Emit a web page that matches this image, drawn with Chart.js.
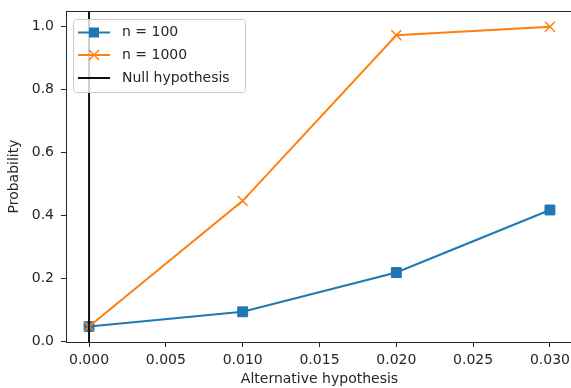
<!DOCTYPE html>
<html>
<head>
<meta charset="utf-8">
<script src="https://cdn.jsdelivr.net/npm/chart.js@4/dist/chart.umd.min.js"></script>
<style>
  html, body { margin: 0; padding: 0; background: #fff; overflow: hidden; }
  #wrap { width: 574px; height: 388px; }
</style>
</head>
<body>
<div id="wrap"><canvas id="powerChart" width="574" height="388"></canvas></div>
<script>
// Datos
const altHyp = [0, 0.01, 0.02, 0.03];
const power100 = [0.046, 0.093, 0.218, 0.417];
const power1000 = [0.046, 0.446, 0.973, 1.0];
const nullHyp = 0;

const seriesNames = ['n = 100', 'n = 1000', 'Null hypothesis'];
const xTicks = [0, 0.005, 0.01, 0.015, 0.02, 0.025, 0.03];
const yTicks = [0, 0.2, 0.4, 0.6, 0.8, 1.0];

const BLUE = '#1f77b4';
const ORANGE = '#ff7f0e';
const INK = '#262626';
const FONT = 'DejaVu Sans';

// Linea vertical + marco superior + leyenda estilo matplotlib
const extras = {
    id: 'extras',
    afterDatasetsDraw(chart) {
        const ctx = chart.ctx;
        const area = chart.chartArea;
        const xs = chart.scales.x;

        ctx.save();
        // hipotesis nula
        const px = xs.getPixelForValue(nullHyp);
        ctx.strokeStyle = '#111';
        ctx.lineWidth = 2;
        ctx.beginPath();
        ctx.moveTo(px, area.top);
        ctx.lineTo(px, area.bottom);
        ctx.stroke();

        // borde superior
        ctx.strokeStyle = INK;
        ctx.lineWidth = 1;
        ctx.beginPath();
        ctx.moveTo(area.left, area.top + 0.5);
        ctx.lineTo(area.right, area.top + 0.5);
        ctx.stroke();

        // leyenda
        const bx = 73.5, by = 19.5, bw = 172, bh = 73, r = 3;
        ctx.beginPath();
        ctx.moveTo(bx + r, by);
        ctx.arcTo(bx + bw, by, bx + bw, by + bh, r);
        ctx.arcTo(bx + bw, by + bh, bx, by + bh, r);
        ctx.arcTo(bx, by + bh, bx, by, r);
        ctx.arcTo(bx, by, bx + bw, by, r);
        ctx.closePath();
        ctx.fillStyle = 'rgba(255,255,255,0.8)';
        ctx.fill();
        ctx.strokeStyle = '#cccccc';
        ctx.stroke();

        const rows = [32.5, 55, 78];
        const colors = [BLUE, ORANGE, '#111'];
        rows.forEach((ry, i) => {
            ctx.strokeStyle = colors[i];
            ctx.lineWidth = 2;
            ctx.beginPath();
            ctx.moveTo(78, ry);
            ctx.lineTo(110, ry);
            ctx.stroke();
            if (i === 0) {
                ctx.fillStyle = BLUE;
                ctx.fillRect(94 - 5, ry - 5, 10, 10);
            } else if (i === 1) {
                ctx.lineWidth = 1.5;
                ctx.beginPath();
                ctx.moveTo(89, ry - 5); ctx.lineTo(99, ry + 5);
                ctx.moveTo(89, ry + 5); ctx.lineTo(99, ry - 5);
                ctx.stroke();
            }
            ctx.fillStyle = INK;
            ctx.font = '14px "' + FONT + '"';
            ctx.textBaseline = 'middle';
            ctx.textAlign = 'left';
            ctx.fillText(seriesNames[i], 122, ry);
        });
        ctx.restore();
    }
};

const ctx = document.getElementById('powerChart').getContext('2d');
new Chart(ctx, {
    type: 'line',
    data: {
        datasets: [
            {
                label: seriesNames[0],
                data: altHyp.map((x, i) => ({ x: x, y: power100[i] })),
                borderColor: BLUE,
                backgroundColor: BLUE,
                borderWidth: 2,
                pointStyle: 'rect',
                pointRadius: 7,
                pointBorderWidth: 1,
                tension: 0,
                order: 3
            },
            {
                label: seriesNames[1],
                data: altHyp.map((x, i) => ({ x: x, y: power1000[i] })),
                borderColor: ORANGE,
                backgroundColor: ORANGE,
                borderWidth: 2,
                pointStyle: 'crossRot',
                pointRadius: 7,
                pointBorderWidth: 1.5,
                tension: 0,
                order: 2
            }
        ]
    },
    options: {
        responsive: false,
        animation: false,
        events: [],
        layout: { autoPadding: false, padding: { top: 11, left: 0, right: 1, bottom: 0 } },
        plugins: {
            legend: { display: false },
            tooltip: { enabled: false }
        },
        scales: {
            x: {
                type: 'linear',
                min: -0.0015,
                max: 0.0315,
                afterBuildTicks: s => { s.ticks = xTicks.map(v => ({ value: v })); },
                afterFit: s => { s.height = 46; s.paddingLeft = 0; s.paddingRight = 0; },
                ticks: {
                    callback: v => v.toFixed(3),
                    font: { family: FONT, size: 14 },
                    color: INK,
                    padding: 5,
                    maxRotation: 0,
                    autoSkip: false
                },
                grid: { drawOnChartArea: false, tickLength: 5, tickColor: INK, tickWidth: 1 },
                border: { color: INK, width: 1 },
                title: {
                    display: true,
                    text: 'Alternative hypothesis',
                    font: { family: FONT, size: 14 },
                    color: INK,
                    padding: { top: 0, bottom: 0 }
                }
            },
            y: {
                type: 'linear',
                min: -0.003,
                max: 1.05,
                afterBuildTicks: s => { s.ticks = yTicks.map(v => ({ value: v })); },
                afterFit: s => { s.width = 66; s.paddingTop = 0; s.paddingBottom = 0; },
                ticks: {
                    callback: v => v.toFixed(1),
                    font: { family: FONT, size: 14 },
                    color: INK,
                    padding: 7
                },
                grid: { drawOnChartArea: false, tickLength: 5, tickColor: INK, tickWidth: 1 },
                border: { color: INK, width: 1 },
                title: {
                    display: true,
                    text: 'Probability',
                    font: { family: FONT, size: 14 },
                    color: INK,
                    padding: { top: 6, bottom: 0 }
                }
            }
        }
    },
    plugins: [extras]
});
</script>
</body>
</html>
